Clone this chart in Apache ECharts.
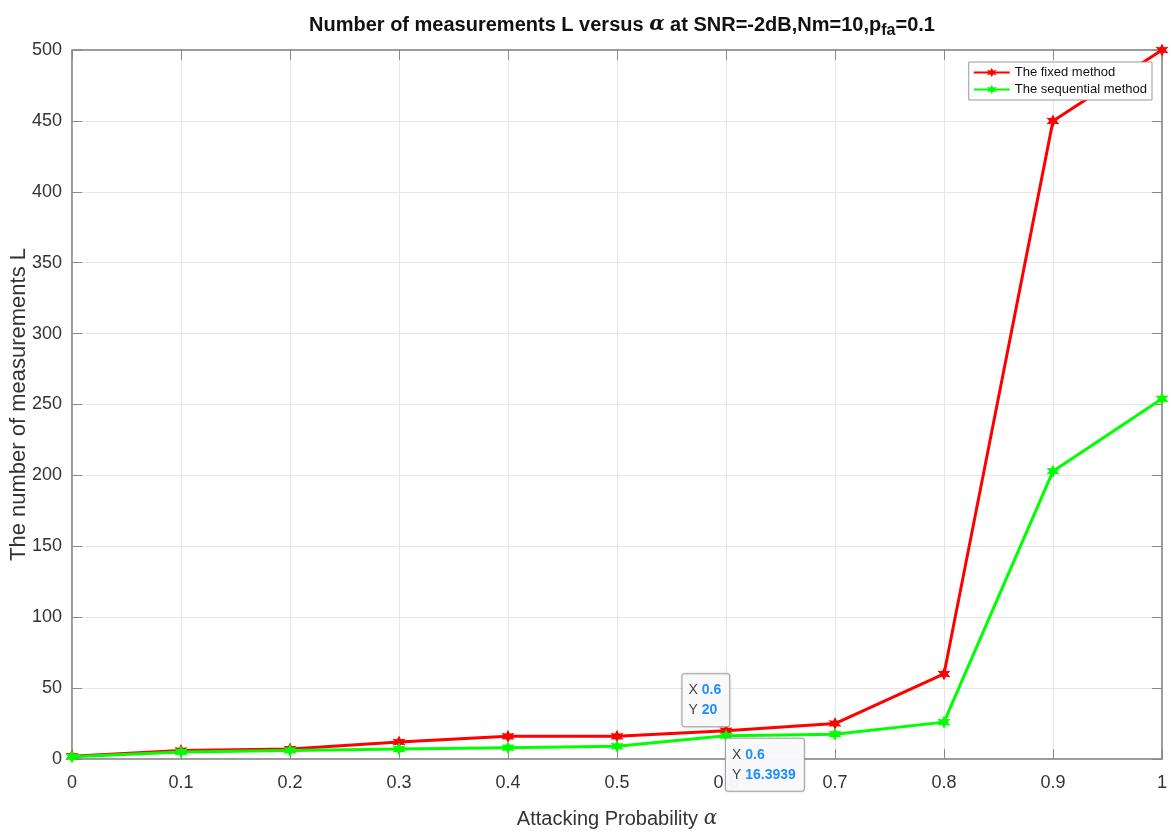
<!DOCTYPE html>
<html><head><meta charset="utf-8">
<script src="https://cdn.jsdelivr.net/npm/echarts@6/dist/echarts.min.js"></script>
<style>html,body{margin:0;padding:0;background:#fff}#c{width:1171px;height:832px}</style>
</head><body><div id="c"></div>
<script>
const alphas = [0, 0.1, 0.2, 0.3, 0.4, 0.5, 0.6, 0.7, 0.8, 0.9, 1];
const fixedL = [2, 6, 7, 12, 16, 16, 20, 25, 60, 450, 500];
const seqL = [1.5, 5, 6, 7, 8, 9, 16.3939, 17.5, 26, 203, 254];
const xTicks = ['0','0.1','0.2','0.3','0.4','0.5','0.6','0.7','0.8','0.9','1'];
const tipIndex = 6;

function starPath() {
  let p = '';
  for (let i = 0; i < 12; i++) {
    const r = i % 2 === 0 ? 10 : 5;
    const a = Math.PI / 2 + i * Math.PI / 6;
    const x = (10 + r * Math.cos(a)).toFixed(2), y = (10 - r * Math.sin(a)).toFixed(2);
    p += (i === 0 ? 'M' : 'L') + x + ' ' + y + ' ';
  }
  return 'path://' + p + 'Z';
}
const star = starPath();
const FN = 'Liberation Sans Narrow, Liberation Sans, Arial';
const tipRich = {
  k: {color: '#444', fontSize: 14, fontFamily: FN, lineHeight: 20},
  v: {color: '#1a8fff', fontSize: 14, fontWeight: 'bold', fontFamily: FN, lineHeight: 20}
};
function mk(vals, tipPos) {
  return vals.map((v, i) => {
    const d = {value: [alphas[i], v]};
    if (i === tipIndex) {
      d.label = {
        show: true, position: tipPos, align: 'left', verticalAlign: 'top',
        formatter: '{k|X }{v|' + alphas[i] + '}\n{k|Y }{v|' + v + '}',
        rich: tipRich,
        backgroundColor: 'rgba(250,250,252,0.97)', borderColor: '#aaa', borderWidth: 1,
        borderRadius: 2, padding: [6, 8, 6, 6],
        shadowColor: 'rgba(0,0,0,0.15)', shadowBlur: 3
      };
    }
    return d;
  });
}
const chart = echarts.init(document.getElementById('c'));
const axisCol = '#8a8a8a';
const tickCommon = {show: true, inside: true, length: 10, lineStyle: {color: axisCol}};
chart.setOption({
  animation: false,
  backgroundColor: '#fff',
  title: {
    text: 'Number of measurements L versus {a|α} at SNR=-2dB,Nm=10,p{s|fa}=0.1',
    left: 617, textAlign: 'center', top: 6,
    textStyle: {
      fontSize: 20, fontWeight: 'bold', color: '#111', fontFamily: FN,
      rich: {
        a: {fontSize: 20, fontStyle: 'italic', fontFamily: 'DejaVu Serif', color: '#111'},
        s: {fontSize: 16, fontWeight: 'bold', verticalAlign: 'bottom', padding: [12, 0, 0, 0], color: '#111', fontFamily: FN}
      }
    }
  },
  legend: {
    right: 19, top: 62, orient: 'vertical', itemGap: 4,
    backgroundColor: '#fff', borderColor: '#999', borderWidth: 1, borderRadius: 0,
    padding: [4, 5, 4, 4], itemWidth: 36, itemHeight: 12,
    textStyle: {fontSize: 13, color: '#111', fontFamily: FN},
    data: ['The fixed method', 'The sequential method']
  },
  grid: {left: 72, right: 9, top: 50, bottom: 73, show: true, borderColor: axisCol, borderWidth: 1,
    containLabel: false, outerBoundsMode: 'none'},
  xAxis: [{
    type: 'value', min: 0, max: 1, interval: 0.1,
    name: 'Attacking Probability {a|α}', nameLocation: 'middle', nameGap: 50,
    nameTextStyle: {fontSize: 20, color: '#333', fontFamily: 'Liberation Sans, Arial',
      rich: {a: {fontSize: 20, fontStyle: 'italic', fontFamily: 'DejaVu Serif', color: '#333'}}},
    axisLine: {onZero: false, lineStyle: {color: axisCol, width: 1.5}},
    axisTick: tickCommon,
    splitLine: {show: true, lineStyle: {color: '#e6e6e6'}},
    axisLabel: {fontSize: 18, color: '#333', margin: 15, fontFamily: 'Liberation Sans, Arial',
      formatter: v => xTicks[Math.round(v * 10)]}
  }, {
    type: 'value', min: 0, max: 1, interval: 0.1, position: 'top',
    axisLine: {show: true, onZero: false, lineStyle: {color: axisCol, width: 1.5}},
    axisTick: tickCommon, axisLabel: {show: false}, splitLine: {show: false}
  }],
  yAxis: [{
    type: 'value', min: 0, max: 500, interval: 50,
    name: 'The number of measurements L', nameLocation: 'middle', nameGap: 42, nameMoveOverlap: false,
    nameTextStyle: {fontSize: 22, color: '#333', fontFamily: 'Liberation Sans, Arial'},
    axisLine: {show: true, onZero: false, lineStyle: {color: axisCol, width: 1.5}},
    axisTick: tickCommon,
    splitLine: {show: true, lineStyle: {color: '#e6e6e6'}},
    axisLabel: {fontSize: 18, color: '#333', margin: 10, fontFamily: 'Liberation Sans, Arial'}
  }, {
    type: 'value', min: 0, max: 500, interval: 50, position: 'right',
    axisLine: {show: true, onZero: false, lineStyle: {color: axisCol, width: 1.5}},
    axisTick: tickCommon, axisLabel: {show: false}, splitLine: {show: false}
  }],
  series: [
    {name: 'The fixed method', type: 'line', data: mk(fixedL, [-37, -50]),
     color: '#ff0000', lineStyle: {width: 3, color: '#ff0000'}, symbol: star, symbolSize: 13,
     itemStyle: {color: '#ff0000'}, z: 3, label: {show: false}},
    {name: 'The sequential method', type: 'line', data: mk(seqL, [6.5, 9.5]),
     color: '#00ff00', lineStyle: {width: 3, color: '#00ff00'}, symbol: star, symbolSize: 13,
     itemStyle: {color: '#00ff00'}, z: 4, label: {show: false}}
  ]
});
</script></body></html>
